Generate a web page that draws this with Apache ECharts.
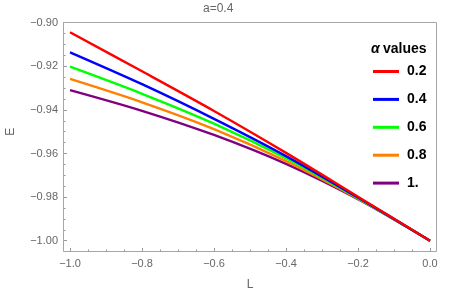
<!DOCTYPE html>
<html><head><meta charset="utf-8">
<script src="https://cdn.jsdelivr.net/npm/echarts@6/dist/echarts.min.js"></script>
<style>html,body{margin:0;padding:0;background:#fff}#c{width:449px;height:292px}</style>
</head><body><div id="c"></div>
<script>
var Lvals = [-1.0, -0.8, -0.6, -0.4, -0.2, 0.0];
var seriesNames = ['0.2', '0.4', '0.6', '0.8', '1.'];
var e02 = [-0.9044, -0.9223, -0.9405, -0.9597, -0.9798, -1.0];
var e04 = [-0.9136, -0.9282, -0.9441, -0.9612, -0.9802, -1.0];
var e06 = [-0.9202, -0.9326, -0.9463, -0.9622, -0.9805, -1.0];
var e08 = [-0.9258, -0.9365, -0.9488, -0.9635, -0.9807, -1.0];
var e10 = [-0.9309, -0.9404, -0.9515, -0.9648, -0.9810, -1.0];
var colors = ['#ff0000', '#0000ff', '#00ff00', '#ff8000', '#800080'];
var allE = [e02, e04, e06, e08, e10];

function pair(xs, ys){ return xs.map(function(x,i){return [x, ys[i]];}); }
function fmt(v, d){ var s = Math.abs(v).toFixed(d); return (v < -1e-9 ? '\u2212' : '') + s; }

var font = '"Liberation Sans", Arial, sans-serif';
var chart = echarts.init(document.getElementById('c'), null, {renderer:'canvas'});
chart.setOption({
  animation: false,
  textStyle: {fontFamily: font},
  grid: {left: 70, right: 19, top: 22.7, bottom: 51.3, outerBoundsMode: 'none', containLabel: false},
  graphic: [
    {type:'rect', shape:{x:63.5, y:22.5, width:373, height:229}, style:{fill:'none', stroke:'#a6a6a6', lineWidth:1}, z:1},
    {type:'text', left: 203, top: 3, style:{text:'a=0.4', fontSize:12, fill:'#666', fontFamily: font}},
    {type:'text', left: 371, top: 42, style:{text:'{a|\u03b1} {b|values}', fontFamily: font,
      rich:{a:{fontStyle:'italic', fontWeight:'bold', fontSize:14, fill:'#000', fontFamily: font}, b:{fontWeight:'bold', fontSize:14, fill:'#000', fontFamily: font}}}}
  ],
  legend: {
    orient: 'vertical', left: 373, top: 64.5, icon: 'rect', itemWidth: 26, itemHeight: 3,
    itemGap: 13.9, data: seriesNames, padding: 0,
    textStyle: {fontSize: 14, fontWeight: 'bold', color: '#000', lineHeight: 14, fontFamily: font, padding:[0,0,0,3]}
  },
  xAxis: {
    type: 'value', min: -1.0, max: 0.0, interval: 0.2, offset: 11.3,
    name: 'L', nameLocation: 'middle', nameGap: 27, nameTextStyle: {color:'#666', fontSize: 12},
    axisLine: {show: false, onZero: false},
    axisTick: {show: true, inside: true, length: 4, lineStyle: {color:'#999'}},
    minorTick: {show: true, splitNumber: 4, length: 2.5, lineStyle: {color:'#999'}},
    splitLine: {show: false},
    axisLabel: {color: '#666', fontSize: 11, margin: 6, formatter: function(v){return fmt(v,1);}}
  },
  yAxis: {
    type: 'value', min: -1.0, max: -0.9, interval: 0.02, offset: 7,
    name: 'E', nameLocation: 'middle', nameGap: 46, nameRotate: 90, nameTextStyle: {color:'#666', fontSize: 12},
    axisLine: {show: false, onZero: false},
    axisTick: {show: true, inside: true, length: 4, lineStyle: {color:'#999'}},
    minorTick: {show: true, splitNumber: 4, length: 2.5, lineStyle: {color:'#999'}},
    splitLine: {show: false},
    axisLabel: {color: '#666', fontSize: 11, margin: 5, formatter: function(v){return fmt(v,2);}}
  },
  series: seriesNames.map(function(n, i){
    return {name: n, type: 'line', data: pair(Lvals, allE[i]), smooth: 0.3, showSymbol: false, symbol: 'none',
      clip: false, color: colors[i], itemStyle: {color: colors[i]}, lineStyle: {color: colors[i], width: 2.4}, z: 5 - i + 2};
  })
});
</script></body></html>
